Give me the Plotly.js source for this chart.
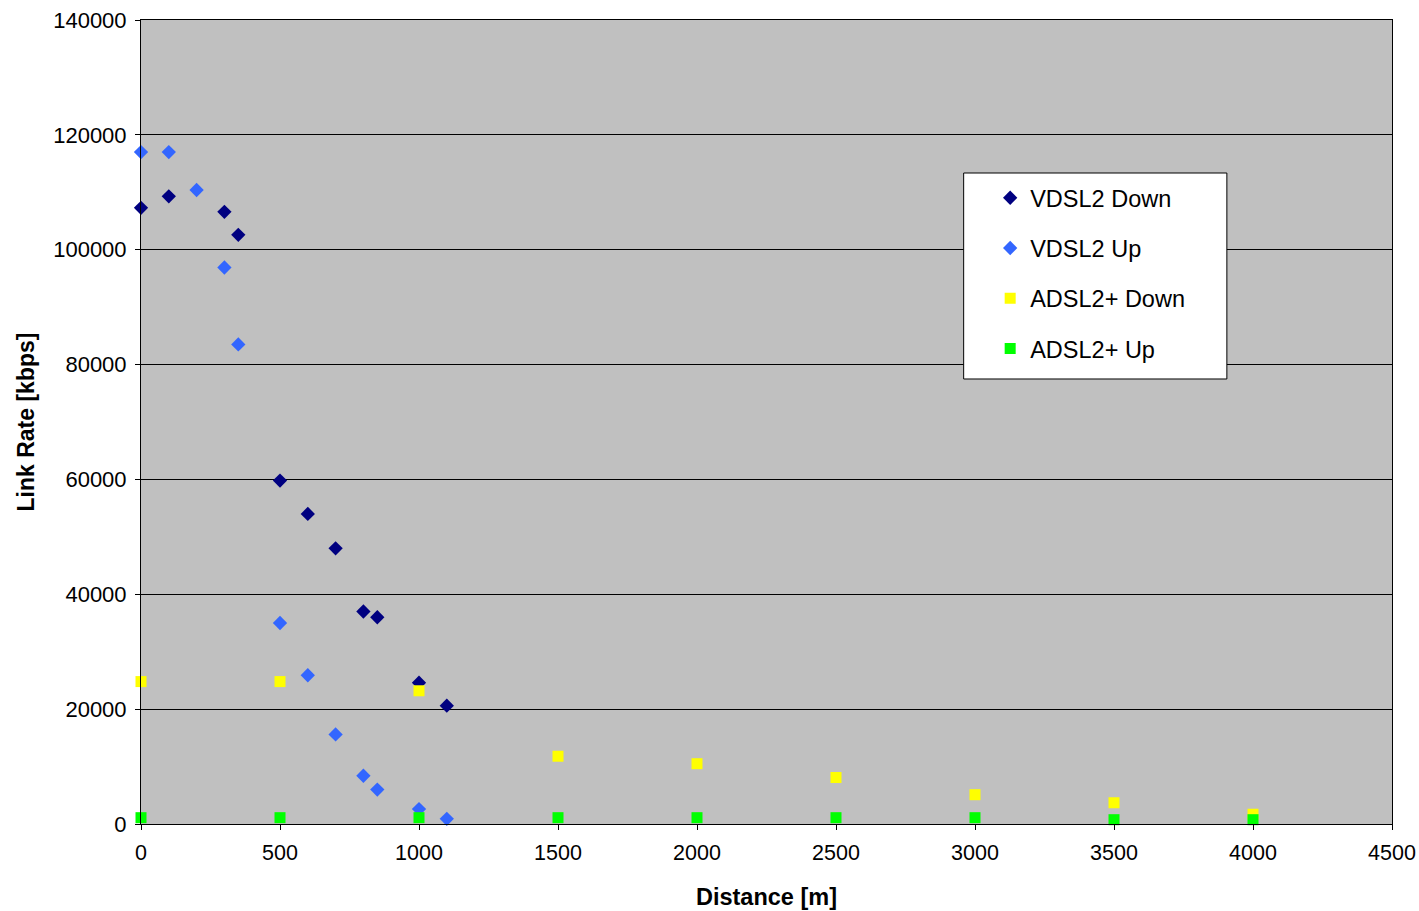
<!DOCTYPE html>
<html>
<head>
<meta charset="utf-8">
<script src="https://cdn.plot.ly/plotly-3.0.1.min.js"></script>
<style>html,body{margin:0;padding:0;background:#fff;}#chart{width:1419px;height:911px;}</style>
</head>
<body>
<div id="chart"></div>
<script>
const vdslDist = [0, 100, 200, 300, 350, 500, 600, 700, 800, 850, 1000, 1100];
const vdslDown = [107300, 109300, null, 106600, 102600, 59800, 54000, 48000, 37000, 36000, 24600, 20600];
const vdslUp   = [117000, 117000, 110400, 96900, 83500, 35000, 25900, 15600, 8400, 6000, 2600, 900];
const adslDist = [0, 500, 1000, 1500, 2000, 2500, 3000, 3500, 4000];
const adslDown = [24800, 24800, 23200, 11800, 10500, 8100, 5100, 3700, 1700];
const adslUp   = [1100, 1100, 1100, 1100, 1100, 1100, 1100, 750, 750];
const seriesNames = ["VDSL2 Down", "VDSL2 Up", "ADSL2+ Down", "ADSL2+ Up"];
const xTicks = [0, 500, 1000, 1500, 2000, 2500, 3000, 3500, 4000, 4500];
const yTicks = [0, 20000, 40000, 60000, 80000, 100000, 120000, 140000];

const font = "Liberation Sans, Arial, sans-serif";
function tr(x, y, name, symbol, color, size) {
  return {x: x, y: y, name: name, type: "scatter", mode: "markers", legendgroup: name,
    marker: {symbol: symbol, color: color, size: size, line: {width: 0}}, cliponaxis: false};
}
const data = [
  tr(vdslDist, vdslDown, seriesNames[0], "diamond", "#000080", 11),
  tr(vdslDist, vdslUp, seriesNames[1], "diamond", "#3366FF", 11),
  tr(adslDist, adslDown, seriesNames[2], "square", "#FFFF00", 11),
  tr(adslDist, adslUp, seriesNames[3], "square", "#00FF00", 11)
];
const layout = {
  width: 1419, height: 911,
  margin: {l: 141, r: 27, t: 20, b: 87},
  paper_bgcolor: "#FFFFFF",
  plot_bgcolor: "#C0C0C0",
  font: {family: font, size: 22, color: "#000"},
  showlegend: true,
  legend: {x: 0.6788, xanchor: "left", y: 0.806, yanchor: "top", bgcolor: "rgba(0,0,0,0)",
    borderwidth: 0, tracegroupgap: 16.7, traceorder: "grouped", font: {family: font, size: 23.5}},
  shapes: [{type: "rect", xref: "paper", yref: "paper", x0: 0.6576, x1: 0.868, y0: 0.5535, y1: 0.8097,
    fillcolor: "#FFFFFF", line: {color: "#000", width: 1}, layer: "above"}],
  xaxis: {range: [0, 4500], tickvals: xTicks, ticktext: xTicks.map(String), showgrid: false, zeroline: false,
    showline: true, linecolor: "#000", linewidth: 1, mirror: true, ticks: "outside", ticklen: 5, tickcolor: "#000",
    tickfont: {family: font, size: 21.5}, ticklabelstandoff: 4,
    title: {text: "<b>Distance [m]</b>", font: {family: font, size: 23.5}, standoff: 24}},
  yaxis: {range: [0, 140000], tickvals: yTicks, ticktext: yTicks.map(String), showgrid: true, gridcolor: "#000",
    gridwidth: 1, zeroline: false, showline: true, linecolor: "#000", linewidth: 1, mirror: true,
    ticks: "outside", ticklen: 5, tickcolor: "#000", tickfont: {family: font, size: 22}, ticklabelstandoff: 4,
    title: {text: "<b>Link Rate [kbps]</b>", font: {family: font, size: 23}, standoff: 12}}
};
Plotly.newPlot("chart", data, layout, {displayModeBar: false, staticPlot: true});
</script>
</body>
</html>
